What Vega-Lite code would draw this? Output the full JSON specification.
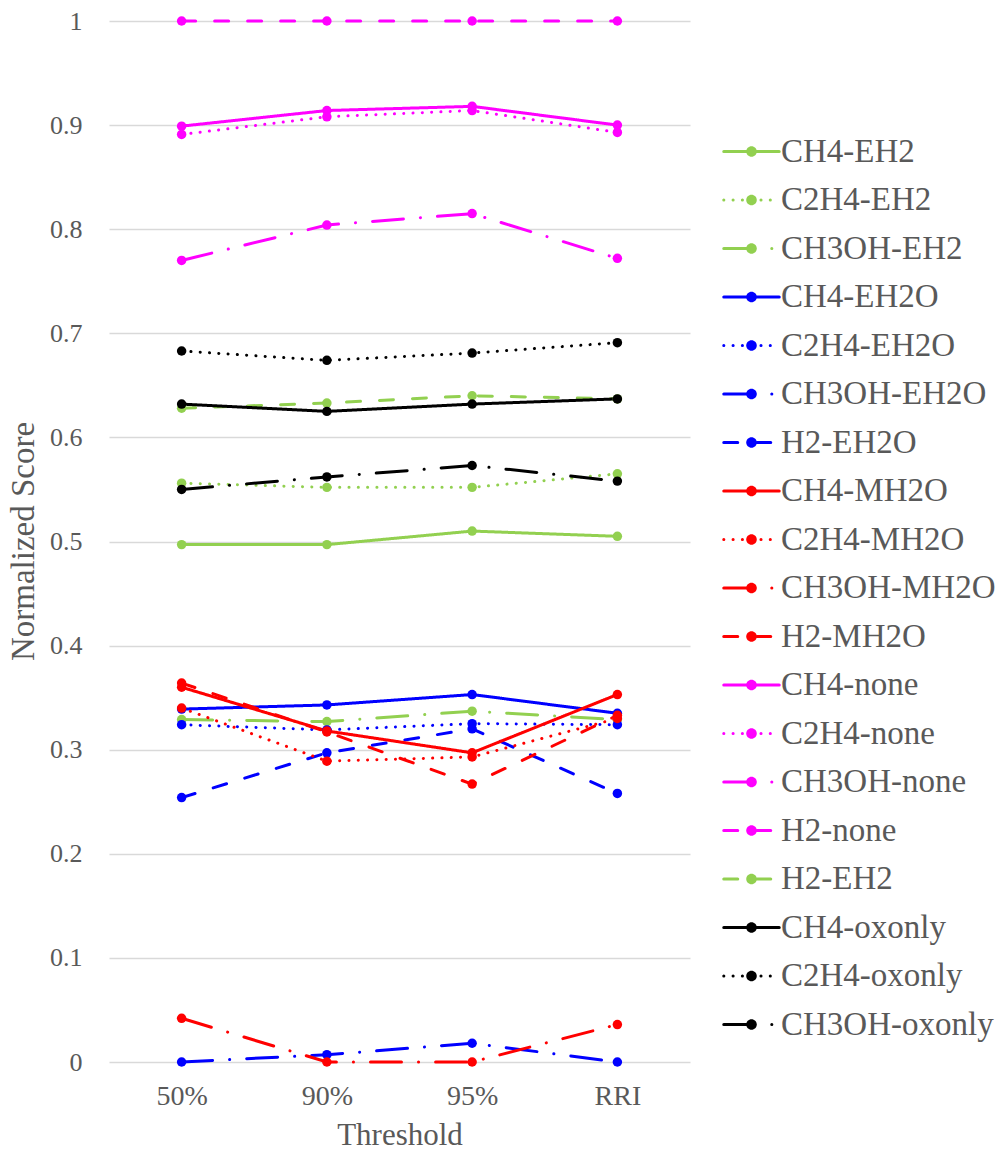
{
  "$schema": "https://vega.github.io/schema/vega-lite/v6.json",
  "width": 581,
  "height": 1041,
  "autosize": {"type": "none"},
  "padding": {"left": 109, "top": 21, "right": 310, "bottom": 90},
  "background": "white",
  "config": {
    "view": {"stroke": null},
    "font": "Liberation Serif",
    "axis": {"labelColor": "#595959", "titleColor": "#595959", "labelFont": "Liberation Serif", "titleFont": "Liberation Serif", "titleFontWeight": "normal", "gridColor": "#D9D9D9", "gridWidth": 1.3}
  },
  "data": {"values": [
    {"series": "CH4-EH2", "t": "50%", "v": 0.497}, {"series": "CH4-EH2", "t": "90%", "v": 0.497}, {"series": "CH4-EH2", "t": "95%", "v": 0.510}, {"series": "CH4-EH2", "t": "RRI", "v": 0.505},
    {"series": "C2H4-EH2", "t": "50%", "v": 0.556}, {"series": "C2H4-EH2", "t": "90%", "v": 0.552}, {"series": "C2H4-EH2", "t": "95%", "v": 0.552}, {"series": "C2H4-EH2", "t": "RRI", "v": 0.565},
    {"series": "CH3OH-EH2", "t": "50%", "v": 0.329}, {"series": "CH3OH-EH2", "t": "90%", "v": 0.327}, {"series": "CH3OH-EH2", "t": "95%", "v": 0.337}, {"series": "CH3OH-EH2", "t": "RRI", "v": 0.329},
    {"series": "CH4-EH2O", "t": "50%", "v": 0.339}, {"series": "CH4-EH2O", "t": "90%", "v": 0.343}, {"series": "CH4-EH2O", "t": "95%", "v": 0.353}, {"series": "CH4-EH2O", "t": "RRI", "v": 0.335},
    {"series": "C2H4-EH2O", "t": "50%", "v": 0.324}, {"series": "C2H4-EH2O", "t": "90%", "v": 0.319}, {"series": "C2H4-EH2O", "t": "95%", "v": 0.325}, {"series": "C2H4-EH2O", "t": "RRI", "v": 0.324},
    {"series": "CH3OH-EH2O", "t": "50%", "v": 0.0}, {"series": "CH3OH-EH2O", "t": "90%", "v": 0.007}, {"series": "CH3OH-EH2O", "t": "95%", "v": 0.018}, {"series": "CH3OH-EH2O", "t": "RRI", "v": 0.0},
    {"series": "H2-EH2O", "t": "50%", "v": 0.254}, {"series": "H2-EH2O", "t": "90%", "v": 0.297}, {"series": "H2-EH2O", "t": "95%", "v": 0.320}, {"series": "H2-EH2O", "t": "RRI", "v": 0.258},
    {"series": "CH4-MH2O", "t": "50%", "v": 0.360}, {"series": "CH4-MH2O", "t": "90%", "v": 0.318}, {"series": "CH4-MH2O", "t": "95%", "v": 0.297}, {"series": "CH4-MH2O", "t": "RRI", "v": 0.353},
    {"series": "C2H4-MH2O", "t": "50%", "v": 0.340}, {"series": "C2H4-MH2O", "t": "90%", "v": 0.289}, {"series": "C2H4-MH2O", "t": "95%", "v": 0.293}, {"series": "C2H4-MH2O", "t": "RRI", "v": 0.330},
    {"series": "CH3OH-MH2O", "t": "50%", "v": 0.042}, {"series": "CH3OH-MH2O", "t": "90%", "v": 0.0}, {"series": "CH3OH-MH2O", "t": "95%", "v": 0.0}, {"series": "CH3OH-MH2O", "t": "RRI", "v": 0.036},
    {"series": "H2-MH2O", "t": "50%", "v": 0.364}, {"series": "H2-MH2O", "t": "90%", "v": 0.317}, {"series": "H2-MH2O", "t": "95%", "v": 0.267}, {"series": "H2-MH2O", "t": "RRI", "v": 0.333},
    {"series": "CH4-none", "t": "50%", "v": 0.899}, {"series": "CH4-none", "t": "90%", "v": 0.914}, {"series": "CH4-none", "t": "95%", "v": 0.918}, {"series": "CH4-none", "t": "RRI", "v": 0.900},
    {"series": "C2H4-none", "t": "50%", "v": 0.891}, {"series": "C2H4-none", "t": "90%", "v": 0.908}, {"series": "C2H4-none", "t": "95%", "v": 0.914}, {"series": "C2H4-none", "t": "RRI", "v": 0.893},
    {"series": "CH3OH-none", "t": "50%", "v": 0.770}, {"series": "CH3OH-none", "t": "90%", "v": 0.804}, {"series": "CH3OH-none", "t": "95%", "v": 0.815}, {"series": "CH3OH-none", "t": "RRI", "v": 0.772},
    {"series": "H2-none", "t": "50%", "v": 1.0}, {"series": "H2-none", "t": "90%", "v": 1.0}, {"series": "H2-none", "t": "95%", "v": 1.0}, {"series": "H2-none", "t": "RRI", "v": 1.0},
    {"series": "H2-EH2", "t": "50%", "v": 0.628}, {"series": "H2-EH2", "t": "90%", "v": 0.633}, {"series": "H2-EH2", "t": "95%", "v": 0.640}, {"series": "H2-EH2", "t": "RRI", "v": 0.637},
    {"series": "CH4-oxonly", "t": "50%", "v": 0.632}, {"series": "CH4-oxonly", "t": "90%", "v": 0.625}, {"series": "CH4-oxonly", "t": "95%", "v": 0.632}, {"series": "CH4-oxonly", "t": "RRI", "v": 0.637},
    {"series": "C2H4-oxonly", "t": "50%", "v": 0.683}, {"series": "C2H4-oxonly", "t": "90%", "v": 0.674}, {"series": "C2H4-oxonly", "t": "95%", "v": 0.681}, {"series": "C2H4-oxonly", "t": "RRI", "v": 0.691},
    {"series": "CH3OH-oxonly", "t": "50%", "v": 0.550}, {"series": "CH3OH-oxonly", "t": "90%", "v": 0.562}, {"series": "CH3OH-oxonly", "t": "95%", "v": 0.573}, {"series": "CH3OH-oxonly", "t": "RRI", "v": 0.558}
  ]},
  "encoding": {
    "x": {"field": "t", "type": "ordinal", "sort": ["50%", "90%", "95%", "RRI"],
      "scale": {"type": "point", "padding": 0.5},
      "axis": {"title": "Threshold", "labelAngle": 0, "labelFontSize": 28, "labelBaseline": "alphabetic", "titleFontSize": 31, "domain": false, "ticks": false, "tickSize": 0, "labelPadding": 42, "titleY": 82, "titleBaseline": "alphabetic"}},
    "y": {"field": "v", "type": "quantitative", "scale": {"domain": [0, 1], "nice": false, "zero": true},
      "axis": {"title": "Normalized Score", "values": [0, 0.1, 0.2, 0.3, 0.4, 0.5, 0.6, 0.7, 0.8, 0.9, 1], "format": "~g", "labelFontSize": 26, "titleFontSize": 33, "domain": false, "ticks": false, "tickSize": 0, "labelPadding": 27, "titleX": -76, "titleY": 520, "titleAngle": -90, "titleAlign": "center", "titleBaseline": "alphabetic"}}
  },
  "layer": [
    {
      "mark": {"type": "line", "strokeWidth": 3, "strokeCap": "round"},
      "encoding": {
        "color": {"field": "series", "type": "nominal",
          "scale": {
            "domain": ["CH4-EH2", "C2H4-EH2", "CH3OH-EH2", "CH4-EH2O", "C2H4-EH2O", "CH3OH-EH2O", "H2-EH2O", "CH4-MH2O", "C2H4-MH2O", "CH3OH-MH2O", "H2-MH2O", "CH4-none", "C2H4-none", "CH3OH-none", "H2-none", "H2-EH2", "CH4-oxonly", "C2H4-oxonly", "CH3OH-oxonly"],
            "range": ["#92D050", "#92D050", "#92D050", "#0000FF", "#0000FF", "#0000FF", "#0000FF", "#FF0000", "#FF0000", "#FF0000", "#FF0000", "#FF00FF", "#FF00FF", "#FF00FF", "#FF00FF", "#92D050", "#000000", "#000000", "#000000"]
          },
          "legend": {"title": null, "orient": "none", "legendX": 613, "legendY": 101, "symbolType": "M-1,0L1,0", "symbolSize": 3080, "symbolStrokeWidth": 3, "labelFontSize": 33, "labelFont": "Liberation Serif", "labelColor": "#595959", "labelOffset": 0, "rowPadding": 1.5, "padding": 0, "labelLimit": 400,
            "encode": {"symbols": {"update": {"strokeCap": {"value": "round"}}}}}
        },
        "strokeDash": {"field": "series", "type": "nominal",
          "scale": {
            "domain": ["CH4-EH2", "C2H4-EH2", "CH3OH-EH2", "CH4-EH2O", "C2H4-EH2O", "CH3OH-EH2O", "H2-EH2O", "CH4-MH2O", "C2H4-MH2O", "CH3OH-MH2O", "H2-MH2O", "CH4-none", "C2H4-none", "CH3OH-none", "H2-none", "H2-EH2", "CH4-oxonly", "C2H4-oxonly", "CH3OH-oxonly"],
            "range": [[1, 0], [0.1, 9.2], [31, 17, 0.1, 17], [1, 0], [0.1, 9.2], [31, 17, 0.1, 17], [14, 19], [1, 0], [0.1, 9.2], [31, 17, 0.1, 17], [14, 19], [1, 0], [0.1, 9.2], [31, 17, 0.1, 17], [14, 19], [14, 19], [1, 0], [0.1, 9.2], [31, 17, 0.1, 17]]
          }
        }
      }
    },
    {
      "mark": {"type": "point", "filled": true, "size": 90, "opacity": 1, "strokeWidth": 0},
      "encoding": {
        "fill": {"field": "series", "type": "nominal",
          "scale": {
            "domain": ["CH4-EH2", "C2H4-EH2", "CH3OH-EH2", "CH4-EH2O", "C2H4-EH2O", "CH3OH-EH2O", "H2-EH2O", "CH4-MH2O", "C2H4-MH2O", "CH3OH-MH2O", "H2-MH2O", "CH4-none", "C2H4-none", "CH3OH-none", "H2-none", "H2-EH2", "CH4-oxonly", "C2H4-oxonly", "CH3OH-oxonly", " "],
            "range": ["#92D050", "#92D050", "#92D050", "#0000FF", "#0000FF", "#0000FF", "#0000FF", "#FF0000", "#FF0000", "#FF0000", "#FF0000", "#FF00FF", "#FF00FF", "#FF00FF", "#FF00FF", "#92D050", "#000000", "#000000", "#000000", "rgba(0,0,0,0)"]
          },
          "legend": {"title": null, "orient": "none", "legendX": 613, "legendY": 101, "symbolType": "M-0.19,0A0.19,0.19,0,1,0,0.19,0A0.19,0.19,0,1,0,-0.19,0Z", "symbolSize": 3080, "symbolStrokeWidth": 3, "symbolStrokeColor": "transparent", "symbolOpacity": 1, "labelFontSize": 33, "labelFont": "Liberation Serif", "labelColor": "#595959", "labelExpr": "''", "labelOffset": 0, "rowPadding": 1.5, "padding": 0, "labelLimit": 400,
            "encode": {"symbols": {"update": {"stroke": {"value": "transparent"}}}}}
        }
      }
    }
  ]
}
